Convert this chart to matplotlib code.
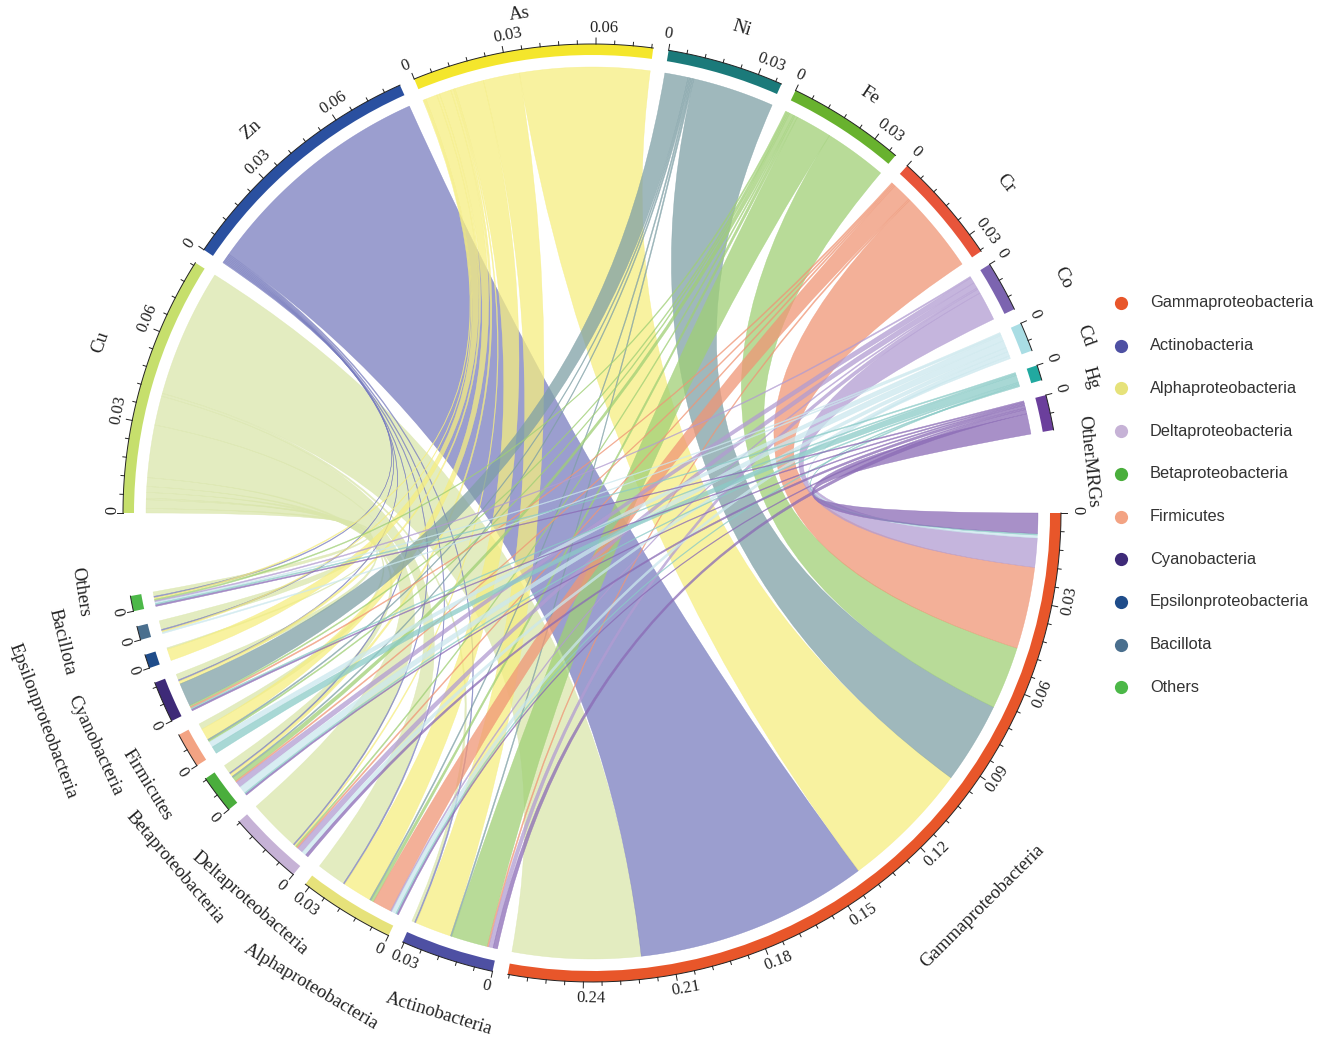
import numpy as np
import matplotlib
matplotlib.use('Agg')
import matplotlib.pyplot as plt
from matplotlib.path import Path
from matplotlib.patches import PathPatch, Wedge

# sectors
bacteria = ['Gammaproteobacteria', 'Actinobacteria', 'Alphaproteobacteria', 'Deltaproteobacteria',
            'Betaproteobacteria', 'Firmicutes', 'Cyanobacteria', 'Epsilonproteobacteria', 'Bacillota', 'Others']
mrgs = ['Cu', 'Zn', 'As', 'Ni', 'Fe', 'Cr', 'Co', 'Cd', 'Hg', 'OtherMRGs']

# abundance of each MRG carried by each bacterial group (same order as bacteria)
cu = [0.044, 0.001, 0.010, 0.018, 0.003, 0.002, 0.002, 0.0005, 0.003, 0.0015]
zn = [0.080, 0.0005, 0.0005, 0.0005, 0.0005, 0.0, 0.0005, 0.0, 0.0005, 0.0005]
as_ = [0.0445, 0.0125, 0.010, 0.0005, 0.001, 0.004, 0.001, 0.004, 0.0005, 0.0005]
ni = [0.028, 0.0005, 0.0005, 0.0, 0.0005, 0.0005, 0.008, 0.0, 0.0, 0.0]
fe = [0.0215, 0.0125, 0.001, 0.0005, 0.0015, 0.0005, 0.0005, 0.0, 0.0, 0.0005]
cr = [0.028, 0.0005, 0.0065, 0.0005, 0.0005, 0.0, 0.0005, 0.0, 0.0, 0.0]
co = [0.010, 0.0015, 0.0005, 0.002, 0.002, 0.0, 0.0, 0.0, 0.0, 0.0005]
cd = [0.001, 0.0, 0.0015, 0.0015, 0.0025, 0.002, 0.0, 0.0, 0.0005, 0.0005]
hg = [0.0005, 0.0, 0.0005, 0.0, 0.0005, 0.0025, 0.0005, 0.0, 0.0, 0.0005]
other_mrgs = [0.007, 0.0015, 0.0005, 0.001, 0.0005, 0.0, 0.0005, 0.0, 0.0, 0.0005]

bac_colors = ['#e8562a', '#4e50a3', '#e6e27a', '#c6b2d6', '#4aae3c', '#f3a383',
              '#3e2a78', '#1f4c8a', '#4a6f8e', '#4cb848']
mrg_colors = ['#c6df6c', '#2a50a0', '#f4e62c', '#1b7a7a', '#68b22e', '#e8553a',
              '#7c64b0', '#a9dde4', '#21a9a0', '#6b3f9c']
link_colors = ['#dae6ab', '#7a7ebf', '#f6ee80', '#7fa0a6', '#a0d076', '#f09676',
               '#b29cd2', '#cbe8ee', '#8bcbc7', '#8b6bb6']

# label placement tweaks (angle offset in deg, radius in px)
bac_label_pos = [(5, 554), (1, 524), (1, 551), (3, 519), (3.5, 547), (1, 521),
                 (1.3, 549), (2.3, 588), (-1.2, 546), (-2.4, 518)]
mrg_label_pos = [(-3, 520), (1.6, 513), (0.9, 504), (-0.6, 507), (-0.6, 502), (-2.3, 529),
                 (-2.4, 527), (-2.3, 524), (-2.2, 517), (-6.5, 499)]

mat = np.array([cu, zn, as_, ni, fe, cr, co, cd, hg, other_mrgs]).T  # rows bacteria, cols MRGs

# geometry (pixel units, y up)
W, H = 1325, 1052
cx, cy = 592, 539
r_link, r_in, r_out = 446, 458, 469
small_gap, big_gap = 1.9, 10.2

names = bacteria + mrgs
totals = list(mat.sum(axis=1)) + list(mat.sum(axis=0))
colors = bac_colors + mrg_colors
n_b = len(bacteria)
gaps = [small_gap] * (n_b - 1) + [big_gap] + [small_gap] * (len(mrgs) - 1) + [big_gap]
k = (360 - sum(gaps)) / sum(totals)

starts = []
a = 0.0
for t, g in zip(totals, gaps):
    starts.append(a)
    a -= t * k + g
centers = [s - t * k / 2 for s, t in zip(starts, totals)]


def pt(theta, r):
    th = np.radians(theta)
    return cx + r * np.cos(th), cy + r * np.sin(th)


def rot_for(theta):
    return (theta % 180) - 90


fig = plt.figure(figsize=(W / 100, H / 100), dpi=100)
ax = fig.add_axes([0, 0, 1, 1])
ax.set_xlim(0, W)
ax.set_ylim(0, H)
ax.axis('off')


# order of links inside every sector: partners nearest counterclockwise come first
def ccw_dist(i, j):
    return (centers[j] - centers[i]) % 360


link_pos = {}
for i in range(len(names)):
    if i < n_b:
        partners = [(n_b + j, mat[i, j]) for j in range(len(mrgs)) if mat[i, j] > 0]
    else:
        partners = [(b, mat[b, i - n_b]) for b in range(n_b) if mat[b, i - n_b] > 0]
    partners.sort(key=lambda p: ccw_dist(i, p[0]))
    pos = starts[i]
    for j, v in partners:
        link_pos[(i, j)] = (pos, pos - v * k)
        pos -= v * k


def arc_pts(t1, t2, r):
    n = max(int(abs(t1 - t2) * 2) + 2, 2)
    return [pt(t, r) for t in np.linspace(t1, t2, n)]


# chords
for j in range(len(mrgs)):
    for b in range(n_b):
        v = mat[b, j]
        if v <= 0:
            continue
        a1, a2 = link_pos[(b, n_b + j)]
        b1, b2 = link_pos[(n_b + j, b)]
        verts, codes = [], []
        pa = arc_pts(a1, a2, r_link)
        verts += pa
        codes += [Path.MOVETO] + [Path.LINETO] * (len(pa) - 1)
        verts += [(cx, cy), pt(b1, r_link)]
        codes += [Path.CURVE3, Path.CURVE3]
        pb = arc_pts(b1, b2, r_link)
        verts += pb[1:]
        codes += [Path.LINETO] * (len(pb) - 1)
        verts += [(cx, cy), pt(a1, r_link)]
        codes += [Path.CURVE3, Path.CURVE3]
        verts.append(pt(a1, r_link))
        codes.append(Path.CLOSEPOLY)
        ax.add_patch(PathPatch(Path(verts, codes), facecolor=link_colors[j], alpha=0.75,
                               edgecolor=link_colors[j], lw=0.3, zorder=2))

# outer ring, axis and ticks
serif = 'Liberation Serif'
for i, (s, t) in enumerate(zip(starts, totals)):
    e = s - t * k
    ax.add_patch(Wedge((cx, cy), r_out, e, s, width=r_out - r_in, facecolor=colors[i],
                       edgecolor='none', zorder=3))
    xs, ys = zip(*arc_pts(s, e, r_out))
    ax.plot(xs, ys, color='#222222', lw=0.7, zorder=4)
    n_ticks = int(np.floor(t / 0.006 + 1e-9)) + 1
    for m in range(n_ticks):
        th = s - m * 0.006 * k
        major = m % 5 == 0
        p0, p1 = pt(th, r_out), pt(th, r_out + (6 if major else 3.5))
        ax.plot([p0[0], p1[0]], [p0[1], p1[1]], color='#222222', lw=0.7, zorder=4)
        if major:
            val = m * 0.006
            lab = '0' if m == 0 else f'{val:.2f}'
            rot = rot_for(th)
            lx, ly = pt(th, 485)
            lx -= 7 * np.cos(np.radians(rot))
            ly -= 7 * np.sin(np.radians(rot))
            ax.text(lx, ly, lab, fontsize=12, family=serif, color='#222222',
                    rotation=rot, rotation_mode='anchor', ha='left', va='center')

# sector names
for i, name in enumerate(names):
    dth, rr = (bac_label_pos + mrg_label_pos)[i]
    th = centers[i] + dth
    lx, ly = pt(th, rr)
    ax.text(lx, ly, name, fontsize=13.5, family=serif, color='#222222',
            rotation=rot_for(th), rotation_mode='anchor', ha='center', va='center')

# legend
for i, (name, c) in enumerate(zip(bacteria, bac_colors)):
    y = H - 303 - i * 42.7
    ax.plot(1121, y, 'o', color=c, markersize=9.5, markeredgewidth=0)
    ax.text(1150, y, name, fontsize=11.8, family='Liberation Sans', color='#333333',
            ha='left', va='center')

fig.savefig('out.png', dpi=100)
